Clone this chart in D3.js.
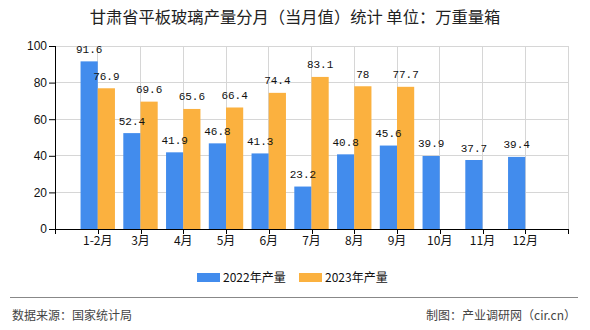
<!DOCTYPE html>
<html><head><meta charset="utf-8">
<script src="https://cdn.jsdelivr.net/npm/d3@7"></script>
<style>body{margin:0;background:#fff;}svg{display:block;}</style>
</head><body>
<svg id="c" width="590" height="330"></svg>
<script>
const categories = ["1-2月","3月","4月","5月","6月","7月","8月","9月","10月","11月","12月"];
const values2022 = [91.6,52.4,41.9,46.8,41.3,23.2,40.8,45.6,39.9,37.7,39.4];
const values2023 = [76.9,69.6,65.6,66.4,74.4,83.1,78,77.7,null,null,null];
const yTicks = [0,20,40,60,80,100];
const seriesNames = ["2022年产量","2023年产量"];
const colors = ["#428ced","#fbb13f"];

const svg = d3.select("#c");
const L=55, R=568, T=46, B=229;
const x = d3.scalePoint().domain(categories).range([L,R]).padding(1);
const y = d3.scaleLinear().domain([0,100]).range([B,T]);
const bw = 17.2;
const cjk = "'Noto Sans CJK SC', 'Liberation Sans', sans-serif";

svg.append("text").attr("x",295).attr("y",23).attr("text-anchor","middle")
  .attr("font-family",cjk).attr("font-size",16.3).attr("fill","#222")
  .text("甘肃省平板玻璃产量分月（当月值）统计 单位：万重量箱");

// grid
const g = svg.append("g");
g.selectAll(".hg").data(yTicks.filter(d=>d>0)).join("line")
  .attr("x1",L).attr("x2",R).attr("y1",d=>y(d)).attr("y2",d=>y(d))
  .attr("stroke","#d6d6d6").attr("stroke-width",1).attr("shape-rendering","crispEdges");
const vPos = categories.map(c=>x(c)).concat([R]);
g.selectAll(".vg").data(vPos).join("line")
  .attr("x1",d=>d).attr("x2",d=>d).attr("y1",T).attr("y2",B)
  .attr("stroke","#d6d6d6").attr("stroke-width",1).attr("shape-rendering","crispEdges");

// bars
const series = [values2022, values2023];
const barG = svg.append("g"), labG = svg.append("g");
series.forEach((vals,si)=>{
  const data = categories.map((c,i)=>({c, v: vals[i]})).filter(d=>d.v!=null);
  barG.append("g").selectAll("rect").data(data).join("rect")
    .attr("x",d=>x(d.c) + (si===0 ? -bw : 0))
    .attr("y",d=>y(d.v)).attr("width",bw).attr("height",d=>B-y(d.v))
    .attr("fill",colors[si]);
  labG.append("g").selectAll("text").data(data).join("text")
    .attr("x",d=>x(d.c) + (si===0 ? -bw/2 : bw/2))
    .attr("y",d=>y(d.v)-8.5).attr("text-anchor","middle")
    .attr("font-family","'Liberation Mono', monospace").attr("font-size",11).attr("fill","#111")
    .text(d=>d.v);
});

// axes
const xa = svg.append("g").attr("transform",`translate(0,${B})`);
xa.append("line").attr("x1",L).attr("x2",R).attr("y1",0.5).attr("y2",0.5).attr("stroke","#000");
xa.selectAll(".t").data([L].concat(vPos)).join("line")
  .attr("x1",d=>Math.round(d)+0.5).attr("x2",d=>Math.round(d)+0.5).attr("y1",0).attr("y2",5).attr("stroke","#000");
xa.selectAll(".l").data(categories).join("text")
  .attr("x",d=>x(d)).attr("y",16).attr("text-anchor","middle")
  .attr("font-family",cjk).attr("font-size",12).attr("fill","#111").text(d=>d);

const ya = svg.append("g").attr("transform",`translate(${L},0)`)
  .call(d3.axisLeft(y).tickValues(yTicks).tickSize(6).tickPadding(2));
ya.select(".domain").attr("stroke","#000").attr("d",`M0.5,${B}V${T}`);
ya.selectAll(".tick line").attr("stroke","#000");
ya.selectAll(".tick text").attr("font-family","'Liberation Sans', sans-serif").attr("font-size",12).attr("fill","#111");

// legend
const leg = [{x:197,n:seriesNames[0],c:colors[0]},{x:299,n:seriesNames[1],c:colors[1]}];
const lg = svg.append("g");
lg.selectAll("rect").data(leg).join("rect").attr("x",d=>d.x).attr("y",273).attr("width",23).attr("height",9).attr("fill",d=>d.c);
lg.selectAll("text").data(leg).join("text").attr("x",d=>d.x+26).attr("y",282)
  .attr("font-family",cjk).attr("font-size",12).attr("fill","#111").text(d=>d.n);

// footer
svg.append("line").attr("x1",10).attr("x2",578).attr("y1",297.5).attr("y2",297.5).attr("stroke","#888").attr("stroke-width",1.2);
svg.append("text").attr("x",12).attr("y",320).attr("font-family",cjk).attr("font-size",12).attr("fill","#444").text("数据来源：国家统计局");
svg.append("text").attr("x",576).attr("y",320).attr("text-anchor","end").attr("font-family",cjk).attr("font-size",12).attr("fill","#444").text("制图：产业调研网（cir.cn）");
</script>
</body></html>
